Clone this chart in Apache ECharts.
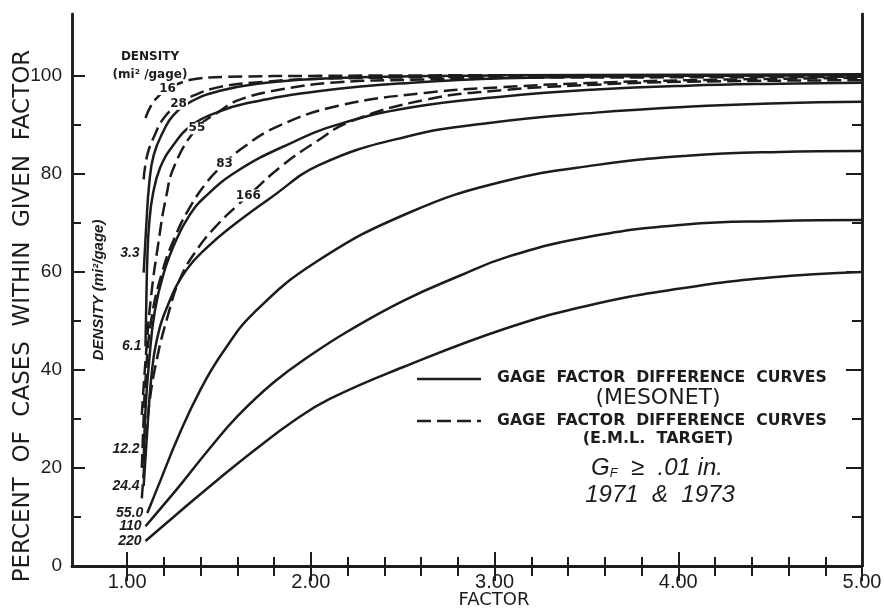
<!DOCTYPE html>
<html>
<head>
<meta charset="utf-8">
<script src="https://cdn.jsdelivr.net/npm/echarts@6/dist/echarts.min.js"></script>
<style>
  html, body { margin: 0; padding: 0; background: #fff; }
  #main { width: 884px; height: 610px; }
</style>
</head>
<body>
<div id="main"></div>
<script>
// gage factor difference curves, 1971 & 1973

// axis ticks
var xMajorTicks = [1, 2, 3, 4, 5];
var xMinorTicks = [1.2, 1.4, 1.6, 1.8, 2.2, 2.4, 2.6, 2.8, 3.2, 3.4, 3.6, 3.8, 4.2, 4.4, 4.6, 4.8];
var yMajorTicks = [0, 20, 40, 60, 80, 100];
var yMinorTicks = [10, 30, 50, 70, 90];

// solid curves (MESONET), density mi2/gage
var mesonetNames = ['3.3', '6.1', '12.2', '24.4', '55.0', '110', '220'];
var meso_3_3 = [[1.09, 59.8], [1.105, 69.8], [1.12, 77.8], [1.145, 83.8], [1.2, 88.8], [1.25, 91.8], [1.35, 94.7], [1.5, 96.8], [1.71, 98.3], [2.05, 99.3], [2.55, 99.8], [3.05, 100], [4.05, 100.1], [5, 100.2]];
var meso_6_1 = [[1.10, 44.8], [1.105, 54.7], [1.11, 62.7], [1.12, 69.7], [1.14, 75.7], [1.18, 81.2], [1.25, 85.7], [1.35, 89.8], [1.5, 92.6], [1.65, 94.3], [2.05, 96.8], [2.55, 98.5], [3.05, 99.4], [4.05, 99.9], [5, 100]];
var meso_12_2 = [[1.09, 20.8], [1.10, 31.8], [1.12, 41.8], [1.15, 51.8], [1.2, 59.8], [1.27, 66.7], [1.34, 71.5], [1.42, 75.1], [1.6, 80.5], [1.88, 86], [2.15, 90], [2.55, 93.5], [3.05, 95.7], [3.55, 97.1], [4.05, 97.9], [4.55, 98.3], [5, 98.5]];
var meso_24_4 = [[1.09, 16.3], [1.11, 27.8], [1.13, 37.8], [1.16, 45.8], [1.22, 53], [1.32, 60.2], [1.44, 65.1], [1.59, 69.8], [1.78, 75], [2.05, 81.8], [2.52, 87.5], [2.97, 90.3], [3.55, 92.4], [4.05, 93.6], [4.55, 94.3], [5, 94.6]];
var meso_55_0 = [[1.11, 10.8], [1.18, 17.3], [1.28, 26.5], [1.4, 36], [1.52, 43.5], [1.69, 51.6], [2.03, 62], [2.54, 72.1], [3.04, 78.3], [3.55, 81.7], [4.05, 83.6], [4.55, 84.4], [5, 84.6]];
var meso_110 = [[1.10, 8.1], [1.2, 12.5], [1.3, 17], [1.45, 24], [1.6, 30.5], [1.8, 37.5], [2.0, 43], [2.2, 47.8], [2.5, 54], [2.8, 59], [3.07, 63], [3.5, 67], [4.04, 69.6], [4.54, 70.3], [5, 70.5]];
var meso_220 = [[1.10, 5.1], [1.3, 11.5], [1.5, 17.8], [1.7, 23.8], [1.9, 29.4], [2.1, 34], [2.5, 40.5], [3.06, 48.4], [3.5, 53], [4.0, 56.5], [4.5, 58.8], [5, 59.9]];

// dashed curves (E.M.L. TARGET)
var emlNames = ['16', '28', '55', '83', '166'];
var eml_16 = [[1.10, 91.3], [1.13, 93.8], [1.17, 95.7], [1.22, 97.2], [1.30, 98.6], [1.40, 99.4], [1.55, 99.7], [2.05, 99.9], [3.05, 100], [5, 100]];
var eml_28 = [[1.09, 78.8], [1.11, 83.8], [1.15, 87.8], [1.20, 91.3], [1.28, 94.2], [1.35, 95.7], [1.5, 97.6], [1.75, 98.7], [2.05, 99.3], [3.05, 99.7], [4.05, 99.8], [5, 99.8]];
var eml_55 = [[1.08, 30.8], [1.10, 41.8], [1.13, 54.8], [1.17, 65.8], [1.21, 74.8], [1.26, 81.8], [1.38, 89.2], [1.5, 92.6], [1.61, 95], [1.85, 97.2], [2.15, 98.6], [2.55, 99.1], [3.05, 99.5], [4.05, 99.6], [5, 99.7]];
var eml_83 = [[1.08, 20], [1.09, 30], [1.10, 37.8], [1.13, 49.8], [1.19, 59.8], [1.26, 67], [1.34, 73], [1.44, 78.5], [1.53, 82], [1.62, 85], [1.82, 89.6], [2.15, 93.8], [2.62, 96.4], [3.05, 97.6], [3.55, 98.5], [4.05, 99], [5, 99.5]];
var eml_166 = [[1.08, 13.8], [1.10, 23.8], [1.12, 32.8], [1.16, 41.8], [1.22, 50.8], [1.29, 58.7], [1.39, 65], [1.49, 69.5], [1.6, 73.5], [1.66, 75.5], [1.84, 81.5], [2.03, 86.5], [2.21, 90.5], [2.62, 95], [3.05, 97], [3.55, 98.1], [4.05, 98.7], [5, 99]];

var mesonetCurves = [meso_3_3, meso_6_1, meso_12_2, meso_24_4, meso_55_0, meso_110, meso_220];
var emlCurves = [eml_16, eml_28, eml_55, eml_83, eml_166];

var ink = '#1c1c1c';
var font = 'DejaVu Sans';

// label tweaks (which point carries the label, vertical nudge)
var mesoLabelShift = [-19, 0, -15, 0, 0, 0, 0];
var emlLabelPoint = [3, 4, 6, 8, 9];

var series = [];
mesonetNames.forEach(function (name, i) {
  var pts = mesonetCurves[i];
  series.push({
    name: name,
    type: 'line',
    data: pts,
    smooth: 0.45,
    symbol: 'none',
    lineStyle: { color: ink, width: 2.5 },
    markPoint: {
      symbol: 'circle',
      symbolSize: 0,
      silent: true,
      data: [{ coord: pts[0] }],
      label: {
        show: true, position: 'left', distance: 4, offset: [0, mesoLabelShift[i]],
        formatter: name, color: ink, fontStyle: 'italic', fontWeight: 'bold',
        fontSize: 14, fontFamily: 'Liberation Sans'
      }
    }
  });
});
emlNames.forEach(function (name, i) {
  var pts = emlCurves[i];
  series.push({
    name: name,
    type: 'line',
    data: pts,
    smooth: 0.45,
    symbol: 'none',
    lineStyle: { color: ink, width: 2.5, type: [14, 6] },
    markPoint: {
      symbol: 'circle',
      symbolSize: 0,
      silent: true,
      data: [{ coord: pts[emlLabelPoint[i]] }],
      label: {
        show: true, position: 'inside', formatter: name, color: ink,
        fontWeight: 'bold', fontSize: 12, fontFamily: font,
        backgroundColor: '#fff', padding: [0, 1]
      }
    }
  });
});

function frameAxis(pos, ticks, len, withLabel, isX) {
  var ax = {
    type: 'value',
    position: pos,
    min: isX ? 0.7 : 0,
    max: isX ? 5 : 112.5,
    axisLine: { show: true, lineStyle: { color: ink, width: 2.5 } },
    axisTick: { show: true, inside: true, length: len, customValues: ticks, lineStyle: { color: ink, width: 2 } },
    axisLabel: { show: false },
    splitLine: { show: false }
  };
  if (withLabel) {
    ax.axisLabel = {
      show: true,
      customValues: ticks,
      margin: isX ? 6 : 10,
      color: ink,
      fontSize: isX ? 20 : 19,
      fontFamily: 'Liberation Sans',
      formatter: isX ? function (v) { return v.toFixed(2); } : function (v) { return String(v); }
    };
  }
  return ax;
}

var xAxes = [
  frameAxis('bottom', xMajorTicks, 14, true, true),
  frameAxis('bottom', xMinorTicks, 9, false, true),
  frameAxis('top', xMajorTicks, 15, false, true),
  frameAxis('top', xMinorTicks, 10, false, true)
];

var yAxes = [
  frameAxis('left', yMajorTicks, 13, true, false),
  frameAxis('left', yMinorTicks, 9, false, false),
  frameAxis('right', yMajorTicks, 16, false, false),
  frameAxis('right', yMinorTicks, 10, false, false)
];

var option = {
  backgroundColor: '#fff',
  animation: false,
  grid: { left: 72, right: 22, top: 14, bottom: 44, containLabel: false, outerBoundsMode: 'none' },
  xAxis: xAxes,
  yAxis: yAxes,
  series: series,
  graphic: [
    { type: 'text', x: 23, y: 316, rotation: Math.PI / 2,
      style: { text: 'PERCENT  OF  CASES  WITHIN  GIVEN  FACTOR', fill: ink, fontSize: 23, fontFamily: font, align: 'center', verticalAlign: 'middle' } },
    { type: 'text', x: 494, y: 600,
      style: { text: 'FACTOR', fill: ink, fontSize: 18, fontFamily: font, align: 'center', verticalAlign: 'middle' } },
    { type: 'text', x: 99, y: 290, rotation: Math.PI / 2,
      style: { text: 'DENSITY (mi²/gage)', fill: ink, fontSize: 15, fontStyle: 'italic', fontWeight: 'bold', fontFamily: 'Liberation Sans', align: 'center', verticalAlign: 'middle' } },
    { type: 'text', x: 150, y: 57,
      style: { text: 'DENSITY', fill: ink, fontSize: 12, fontWeight: 'bold', fontFamily: font, align: 'center', verticalAlign: 'middle' } },
    { type: 'text', x: 150, y: 75,
      style: { text: '(mi² /gage)', fill: ink, fontSize: 12, fontWeight: 'bold', fontFamily: font, align: 'center', verticalAlign: 'middle' } },
    // legend
    { type: 'line', shape: { x1: 417, y1: 379, x2: 481, y2: 379 }, style: { stroke: ink, lineWidth: 2.5 } },
    { type: 'text', x: 497, y: 378,
      style: { text: 'GAGE  FACTOR  DIFFERENCE  CURVES', fill: ink, fontSize: 15.7, fontWeight: 'bold', fontFamily: font, align: 'left', verticalAlign: 'middle' } },
    { type: 'text', x: 658, y: 398,
      style: { text: '(MESONET)', fill: ink, fontSize: 22, fontFamily: font, align: 'center', verticalAlign: 'middle' } },
    { type: 'line', shape: { x1: 417, y1: 421, x2: 481, y2: 421 }, style: { stroke: ink, lineWidth: 2.5, lineDash: [14, 6] } },
    { type: 'text', x: 497, y: 421,
      style: { text: 'GAGE  FACTOR  DIFFERENCE  CURVES', fill: ink, fontSize: 15.7, fontWeight: 'bold', fontFamily: font, align: 'left', verticalAlign: 'middle' } },
    { type: 'text', x: 658, y: 439,
      style: { text: '(E.M.L.  TARGET)', fill: ink, fontSize: 16, fontWeight: 'bold', fontFamily: font, align: 'center', verticalAlign: 'middle' } },
    { type: 'text', x: 657, y: 468,
      style: {
        text: '{g|G}{s|F}{g|  ≥  .01 in.}', align: 'center', verticalAlign: 'middle',
        rich: {
          g: { fill: ink, fontSize: 24, fontStyle: 'italic', fontFamily: 'Liberation Sans' },
          s: { fill: ink, fontSize: 13, fontStyle: 'italic', fontFamily: 'Liberation Sans', padding: [10, 0, 0, 0] }
        }
      } },
    { type: 'text', x: 660, y: 495,
      style: { text: '1971  &  1973', fill: ink, fontSize: 24, fontStyle: 'italic', fontFamily: 'Liberation Sans', align: 'center', verticalAlign: 'middle' } }
  ]
};

var chart = echarts.init(document.getElementById('main'), null, { renderer: 'canvas' });
chart.setOption(option);
</script>
</body>
</html>
